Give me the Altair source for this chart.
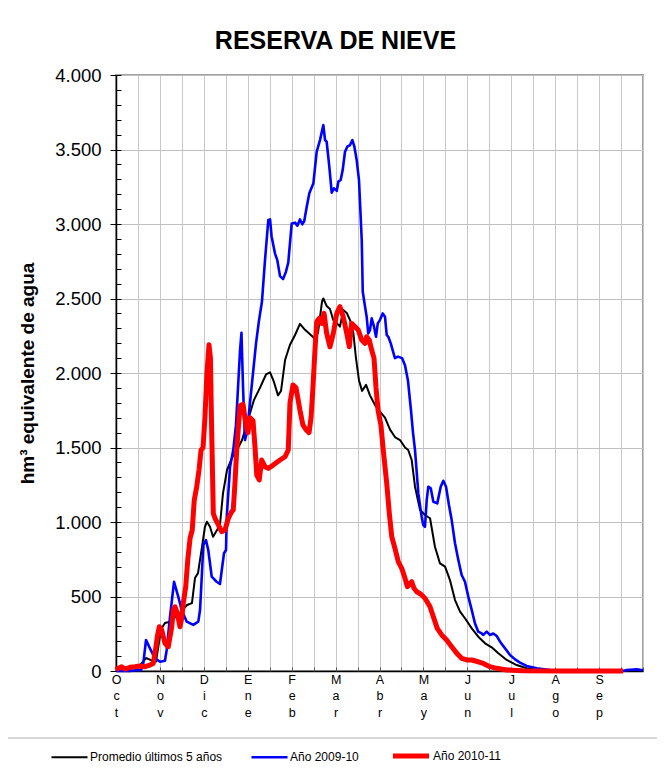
import altair as alt
import pandas as pd

meses = ["Oct", "Nov", "Dic", "Ene", "Feb", "Mar", "Abr", "May", "Jun", "Jul", "Ago", "Sep"]
series = ["Promedio últimos 5 años", "Año 2009-10", "Año 2010-11"]
colores = ["#000000", "#0000ff", "#ff0000"]

# day of hydrological year (0 = 1 Oct) and hm3
prom_dia = [0, 9.7, 16.6, 20.8, 24.9, 27.7, 29.1, 31.2, 33.9, 37.4,
            44.3, 49.2, 52.6, 54.7, 56.8, 59.6, 61.6, 63.0, 65.1, 67.2,
            70.0, 72.0, 74.1, 76.9, 80.3, 83.8, 87.3, 91.4, 95.6, 99.7,
            103.9, 106.7, 109.4, 112.2, 114.3, 117.1, 120.5, 124.0, 127.4, 130.9,
            134.4, 137.8, 139.9, 142.7, 143.6, 145.9, 148.2, 150.5, 152.9, 155.1,
            157.4, 159.8, 162.1, 164.4, 166.2, 168.3, 170.4, 173.2, 175.9, 179.4,
            182.8, 186.3, 189.8, 193.2, 196.7, 200.2, 202.4, 204.8, 207.1, 210.6,
            214.0, 217.5, 220.9, 224.4, 227.9, 231.3, 234.8, 238.3, 241.7, 246.4,
            250.9, 255.6, 260.2, 264.8, 270.6, 277.5, 284.4, 293.7, 300.6, 335.2,
            352.5, 357.4, 365]
prom_val = [0, 13, 40, 87, 70, 63, 150, 280, 322, 330,
            390, 443, 456, 624, 657, 834, 968, 1002, 968, 901,
            946, 980, 1192, 1349, 1429, 1483, 1550, 1685, 1820, 1900,
            1990, 2005, 1940, 1850, 1880, 2087, 2190, 2255, 2330, 2290,
            2260, 2230, 2270, 2480, 2500, 2450, 2430, 2355, 2335, 2311,
            2423, 2403, 2355, 2268, 2100, 1950, 1880, 1920, 1850, 1785,
            1740, 1700, 1620, 1570, 1550, 1500, 1483, 1416, 1237, 1080,
            1047, 1025, 834, 722, 700, 610, 476, 398, 354, 286,
            230, 186, 159, 119, 74, 40, 18, 7, 2, 0,
            0, 6, 5]

a0910_dia = [0, 9.7, 14.5, 17.3, 18.9, 20.8, 23.5, 27.0, 30.5, 33.9,
             35.1, 37.4, 40.2, 43.1, 45.5, 49.0, 53.5, 57.0, 58.2, 59.4,
             60.5, 62.3, 63.9, 66.3, 69.7, 72.0, 74.8, 76.2, 76.7, 79.0,
             81.2, 83.1, 84.5, 85.9, 86.9, 88.0, 89.3, 90.7, 92.8, 94.9,
             97.0, 99.0, 101.1, 103.2, 105.5, 106.7, 107.8, 110.1, 111.7, 113.6,
             115.7, 117.7, 119.3, 121.7, 124.0, 125.6, 127.4, 129.0, 130.4, 132.1,
             133.9, 136.7, 139.0, 141.3, 143.6, 144.8, 145.9, 147.7, 149.4, 151.0,
             152.9, 154.0, 155.6, 157.0, 158.6, 160.2, 162.1, 163.7, 165.1, 166.7,
             168.3, 170.2, 170.9, 172.5, 173.6, 174.7, 175.9, 177.1, 178.7, 180.1,
             181.3, 182.8, 184.7, 186.3, 187.5, 188.6, 190.3, 191.6, 193.2, 195.3,
             198.1, 200.2, 202.2, 204.3, 205.7, 207.1, 209.4, 211.7, 212.8, 214.0,
             215.2, 216.3, 218.0, 219.8, 222.5, 224.9, 226.7, 228.6, 230.6, 232.5,
             234.8, 237.1, 239.4, 241.7, 244.0, 246.4, 248.6, 250.9, 253.3, 254.4,
             256.7, 259.0, 261.3, 263.7, 266.0, 269.4, 272.9, 276.4, 279.8, 284.4,
             291.4, 300.6, 307.5, 335.2, 351.2, 353.7, 360.6, 365]
a0910_val = [0, 0, 7, 5, 51, 208, 152, 85, 62, 69,
             141, 364, 599, 499, 409, 331, 309, 331, 409, 633,
             846, 879, 812, 633, 599, 584, 790, 812, 1035, 1371,
             1483, 1650, 1900, 2150, 2270, 1900, 1550, 1600, 1800, 2000,
             2200, 2350, 2480, 2758, 3027, 3031, 2915, 2803, 2758, 2650,
             2630, 2680, 2740, 3004, 3009, 2989, 3031, 2998, 3020, 3116,
             3206, 3273, 3485, 3563, 3664, 3563, 3552, 3389, 3210, 3239,
             3223, 3284, 3295, 3362, 3485, 3519, 3530, 3563, 3519, 3429,
             3295, 2892, 2545, 2445, 2378, 2266, 2288, 2367, 2311, 2243,
             2333, 2355, 2400, 2378, 2255, 2243, 2199, 2154, 2100, 2110,
             2100, 2050, 1950, 1750, 1600, 1483, 1192, 1035, 980, 968,
             1147, 1237, 1226, 1136, 1125, 1237, 1277, 1237, 1114, 1013,
             857, 745, 644, 599, 499, 409, 320, 264, 252, 242,
             264, 242, 252, 235, 197, 152, 107, 78, 56, 34,
             18, 7, 2, 0, 0, 7, 11, 5]

a1011_dia = [0, 1.6, 3.9, 6.2, 9.7, 13.2, 16.6, 20.1, 23.5, 25.8,
             27.7, 28.6, 30.0, 31.7, 33.9, 36.2, 37.4, 38.6, 39.7, 40.9,
             42.5, 44.3, 45.5, 46.6, 48.3, 49.7, 51.3, 52.8, 54.2, 55.9,
             57.5, 58.9, 60.3, 61.6, 63.0, 64.4, 65.4, 66.1, 67.4, 68.6,
             70.9, 73.2, 75.5, 77.8, 80.1, 81.2, 82.4, 83.6, 84.5, 85.9,
             88.0, 90.0, 91.4, 92.8, 94.9, 96.3, 97.5, 99.2, 100.9, 103.2,
             105.5, 108.9, 113.6, 117.1, 119.3, 120.5, 122.6, 124.7, 127.4, 129.5,
             131.6, 133.7, 135.1, 136.4, 137.8, 139.0, 140.8, 142.5, 144.1, 145.9,
             148.2, 150.5, 152.9, 155.1, 157.4, 159.8, 161.6, 163.2, 165.5, 167.8,
             170.2, 172.5, 173.6, 175.4, 177.1, 178.7, 180.1, 181.5, 183.5, 185.1,
             187.5, 189.3, 191.0, 193.2, 195.5, 197.9, 200.2, 201.8, 203.6, 204.8,
             206.4, 208.3, 211.0, 214.0, 217.5, 219.8, 222.5, 225.6, 229.0, 232.5,
             236.0, 239.4, 242.9, 246.4, 250.9, 254.4, 259.0, 263.7, 270.6, 281.9,
             307.5, 351.2]
a1011_val = [7, 18, 29, 13, 25, 29, 34, 29, 40, 51,
             163, 230, 297, 275, 186, 163, 230, 297, 409, 431,
             387, 297, 354, 454, 566, 745, 891, 946, 1147, 1237,
             1349, 1483, 1500, 1700, 2000, 2190, 2100, 1700, 1058, 1025,
             980, 935, 946, 1025, 1069, 1080, 1260, 1483, 1600, 1780,
             1790, 1650, 1600, 1700, 1680, 1500, 1315, 1282, 1416, 1371,
             1360, 1382, 1416, 1438, 1483, 1800, 1920, 1900, 1750, 1650,
             1620, 1600, 1700, 1900, 2154, 2344, 2367, 2333, 2400, 2266,
             2176, 2266, 2400, 2445, 2378, 2266, 2176, 2333, 2311, 2288,
             2221, 2199, 2243, 2221, 2154, 2100, 1900, 1750, 1650, 1483,
             1260, 1058, 901, 823, 734, 689, 622, 566, 588, 599,
             555, 532, 517, 488, 431, 364, 286, 242, 208, 163,
             119, 85, 74, 74, 62, 51, 29, 18, 7, 2,
             0, 0]

y_major = [0, 500, 1000, 1500, 2000, 2500, 3000, 3500, 4000]
y_minor = list(range(0, 4001, 100))
x_ticks = [i * 365 / 24 for i in range(25)]

FONT = "Liberation Sans"
W, H = 527, 596

# evenly spaced point scale for stroke widths: padding slots give
# black 2.0, blue 2.6, red 5.0
slots = [series[0], series[1], "_1", "_2", "_3", series[2]]
slot_colors = [colores[0], colores[1], "#ffffff", "#ffffff", "#ffffff", colores[2]]


def frame(name, d, v):
    return pd.DataFrame({"serie": name, "dia": d, "hm3": v})


df_prom = frame(series[0], prom_dia, prom_val)
df_a = frame(series[1], a0910_dia, a0910_val)
df_b = frame(series[2], a1011_dia, a1011_val)

month_list = "[" + ",".join("'%s'" % m for m in meses) + "]"
k = "round(datum.value*24/365)"
x_label_expr = f"({k} % 2 == 0 && {k} < 24) ? split({month_list}[{k}/2], '') : ''"
y_label_expr = "replace(format(datum.value, ','), ',', '.')"

xscale = alt.Scale(domain=[0, 365], nice=False, zero=False)
yscale = alt.Scale(domain=[0, 4000], nice=False)

legend = alt.Legend(
    title=None, orient="none", legendX=-66, legendY=660, direction="horizontal",
    symbolType="stroke", symbolSize=1300, labelFont=FONT, labelFontSize=12,
    labelColor="black", columnPadding=23, labelOffset=1, padding=0, values=series,
)
color_enc = alt.Color("serie:N", scale=alt.Scale(domain=slots, range=slot_colors), legend=legend)
width_enc = alt.StrokeWidth("serie:N", scale=alt.Scale(type="point", domain=slots, range=[2.0, 5.0]),
                            legend=legend)

x_main = alt.Axis(
    values=x_ticks, labelExpr=x_label_expr, grid=True, gridColor="#c8c8c8", gridWidth=1,
    ticks=False, domainColor="black", domainWidth=1.5, labelFont=FONT, labelFontSize=12.5,
    labelColor="black", labelLineHeight=16.5, labelPadding=2, labelAngle=0, labelAlign="center",
    labelOverlap=False, labelFlush=False, labelBound=False, title=None, orient="bottom",
)
y_main = alt.Axis(
    values=y_major, labelExpr=y_label_expr, grid=True, gridColor="#c0c0c0", gridWidth=1,
    tickSize=6, tickColor="black", domainColor="black", domainWidth=1.5,
    labelFont=FONT, labelFontSize=18.5, labelColor="black", labelPadding=9,
    title="hm³ equivalente de agua", titleFont=FONT, titleFontSize=19, titleFontWeight="bold",
    titleColor="black", titlePadding=17, orient="left",
)
x_minor = alt.Axis(
    values=x_ticks, labels=False, grid=False, domain=False, tickSize=4, tickColor="#555555",
    offset=-4, title=None, orient="bottom",
)
y_minor_ax = alt.Axis(
    values=y_minor, labels=False, grid=False, domain=False, tickSize=5, tickColor="black",
    offset=-5, title=None, orient="left",
)

line_prom = alt.Chart(df_prom).mark_line(strokeJoin="round").encode(
    x=alt.X("dia:Q", scale=xscale, axis=x_main),
    y=alt.Y("hm3:Q", scale=yscale, axis=y_main),
    color=color_enc, strokeWidth=width_enc,
)
line_a = alt.Chart(df_a).mark_line(strokeJoin="round").encode(
    x=alt.X("dia:Q", scale=xscale, axis=x_minor),
    y=alt.Y("hm3:Q", scale=yscale, axis=y_minor_ax),
    color=color_enc, strokeWidth=width_enc,
)
line_b = alt.Chart(df_b).mark_line(strokeJoin="round").encode(
    x=alt.X("dia:Q", scale=xscale, axis=None),
    y=alt.Y("hm3:Q", scale=yscale, axis=None),
    color=color_enc, strokeWidth=width_enc,
)

deco = pd.DataFrame({"k": [0]})
outer_box = alt.Chart(deco).mark_rect(fillOpacity=0, stroke="#a8a8a8", strokeWidth=1).encode(
    x=alt.value(-112), x2=alt.value(600), y=alt.value(-71), y2=alt.value(720)
)
legend_box = alt.Chart(deco).mark_rect(fillOpacity=0, stroke="#b4b4b4", strokeWidth=1).encode(
    x=alt.value(-110), x2=alt.value(600), y=alt.value(663), y2=alt.value(699)
)

chart = alt.layer(outer_box, legend_box, line_prom, line_a, line_b).resolve_axis(
    x="independent", y="independent"
).properties(
    width=W, height=H,
    autosize=alt.AutoSizeParams(type="none"),
    padding={"left": 108, "top": 67, "right": 14, "bottom": 97},
    title=alt.TitleParams(
        "RESERVA DE NIEVE", font=FONT, fontSize=25, fontWeight="bold", color="black",
        anchor="middle", frame="group", dx=-44, offset=0, dy=70, baseline="alphabetic",
    ),
).configure(font=FONT).configure_view(stroke="#a0a0a0", strokeWidth=2)

chart.save("out.html", embed_options={"renderer": "svg", "actions": False})
